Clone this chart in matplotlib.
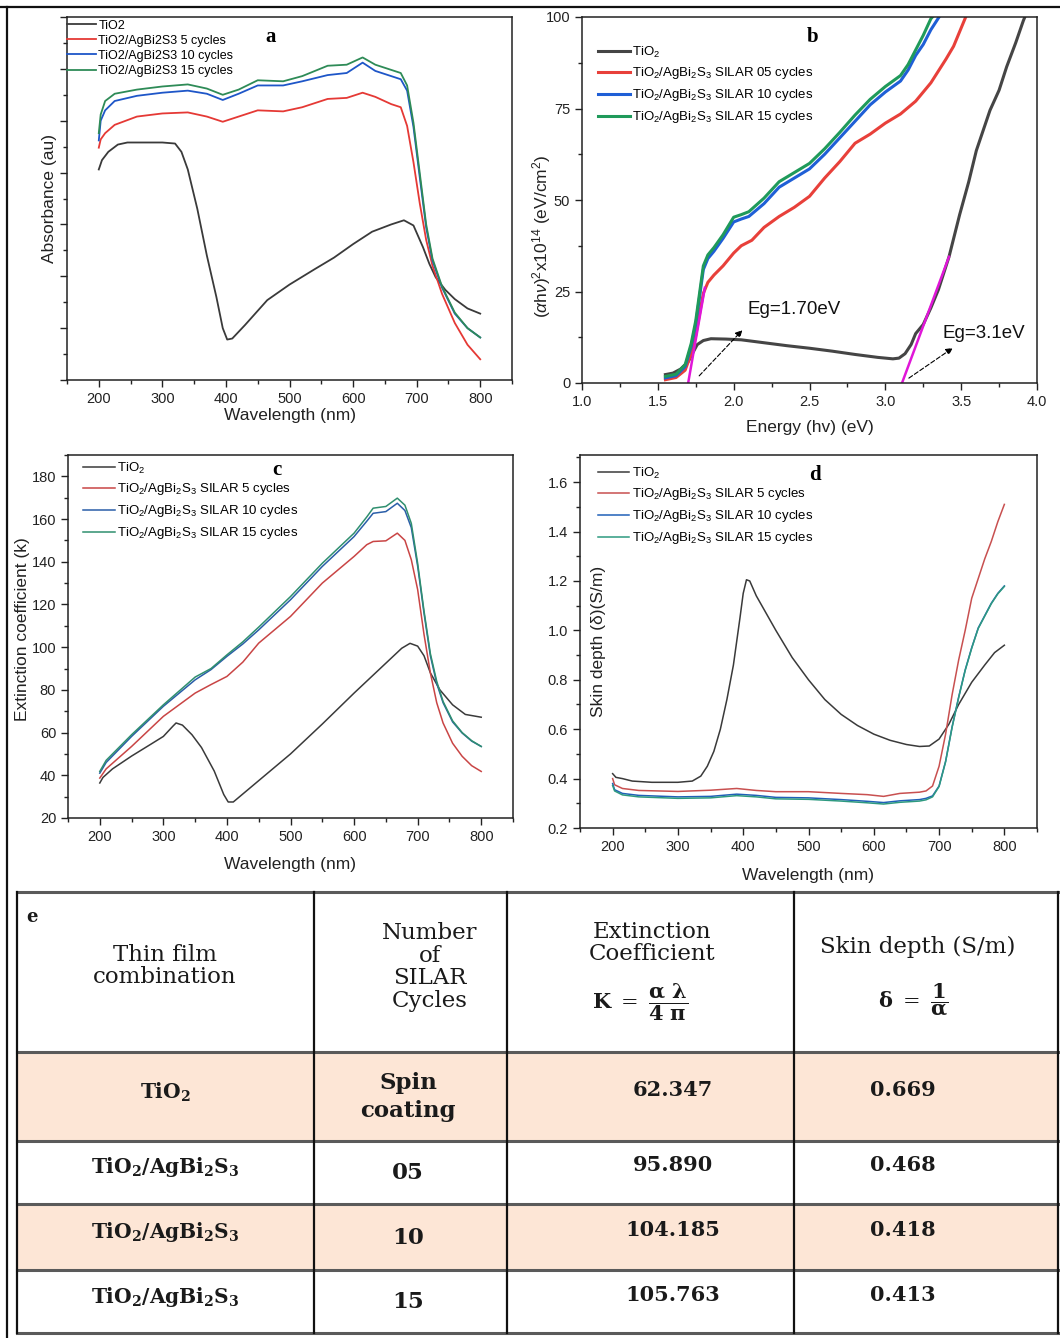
import numpy as np
import matplotlib
matplotlib.use('Agg')
import matplotlib.pyplot as plt
from matplotlib.ticker import MultipleLocator, NullFormatter

plt.rcParams['font.family'] = ['Liberation Sans', 'DejaVu Sans']
plt.rcParams['mathtext.fontset'] = 'custom'
plt.rcParams['mathtext.rm'] = 'Liberation Sans'
plt.rcParams['mathtext.it'] = 'Liberation Sans:italic'
plt.rcParams['mathtext.bf'] = 'Liberation Sans:bold'

# ---------------- panel a : absorbance ----------------
a_tio2_x = [200, 205, 215, 230, 245, 280, 300, 320, 330, 340, 355, 370, 385, 395, 402, 410, 430, 465,
            500, 540, 570, 600, 630, 660, 680, 695, 710, 720, 730, 745, 760, 780, 800]
a_tio2_y = [2.03, 2.12, 2.20, 2.27, 2.29, 2.29, 2.29, 2.28, 2.20, 2.03, 1.65, 1.20, 0.80, 0.50, 0.39, 0.40,
            0.53, 0.77, 0.92, 1.07, 1.18, 1.31, 1.43, 1.50, 1.54, 1.49, 1.28, 1.12, 0.99, 0.87, 0.78, 0.69, 0.64]
a_x = [200, 203, 210, 225, 260, 300, 340, 370, 395, 420, 450, 490, 520, 560, 590, 615, 635, 660,
       675, 685, 695, 705, 715, 725, 740, 760, 780, 800]
a_5_y = [2.24, 2.32, 2.38, 2.46, 2.54, 2.57, 2.58, 2.54, 2.49, 2.54, 2.60, 2.59, 2.63, 2.71, 2.72, 2.77,
         2.73, 2.66, 2.63, 2.45, 2.10, 1.70, 1.35, 1.10, 0.83, 0.55, 0.34, 0.20]
a_10_y = [2.31, 2.50, 2.60, 2.69, 2.74, 2.77, 2.79, 2.76, 2.70, 2.76, 2.84, 2.84, 2.88, 2.94, 2.96, 3.06,
          2.98, 2.93, 2.90, 2.79, 2.44, 1.95, 1.47, 1.15, 0.89, 0.64, 0.50, 0.41]
a_15_y = [2.38, 2.56, 2.69, 2.76, 2.80, 2.83, 2.85, 2.81, 2.75, 2.80, 2.89, 2.88, 2.93, 3.03, 3.04, 3.11,
          3.04, 2.99, 2.96, 2.84, 2.48, 1.99, 1.50, 1.17, 0.90, 0.65, 0.50, 0.41]

# ---------------- panel b : Tauc plot ----------------
b_tio2_x = [1.55, 1.60, 1.65, 1.70, 1.73, 1.76, 1.80, 1.85, 1.95, 2.05, 2.20, 2.35, 2.50, 2.65, 2.80,
            2.95, 3.05, 3.09, 3.13, 3.17, 3.20, 3.25, 3.30, 3.35, 3.42, 3.49, 3.55, 3.60, 3.69, 3.75,
            3.80, 3.86, 3.91, 3.93]
b_tio2_y = [2.3, 2.7, 3.8, 5.8, 8.2, 10.5, 11.6, 12.1, 12.0, 11.8, 11.0, 10.2, 9.5, 8.7, 7.8,
            7.0, 6.6, 6.8, 8.0, 10.5, 13.5, 16.0, 20.5, 25.5, 34.5, 46.0, 55.0, 63.5, 74.5, 80.0,
            86.4, 93.0, 99.0, 101.0]
b_5_x = [1.55, 1.62, 1.68, 1.72, 1.75, 1.78, 1.80, 1.83, 1.87, 1.93, 2.00, 2.05, 2.12, 2.20, 2.30, 2.40,
         2.50, 2.60, 2.70, 2.80, 2.90, 3.00, 3.10, 3.20, 3.30, 3.40, 3.45, 3.49, 3.54]
b_5_y = [0.9, 1.5, 3.5, 8.0, 13.0, 20.0, 24.5, 27.5, 29.5, 32.0, 35.5, 37.5, 39.0, 42.5, 45.5, 48.0,
         51.0, 56.0, 60.5, 65.5, 68.0, 71.0, 73.5, 77.0, 82.0, 88.5, 92.0, 96.0, 101.0]
b_x = [1.55, 1.62, 1.68, 1.72, 1.75, 1.78, 1.80, 1.83, 1.87, 1.93, 2.00, 2.05, 2.10, 2.20, 2.30, 2.40,
       2.50, 2.60, 2.70, 2.80, 2.90, 3.00, 3.10, 3.15, 3.20, 3.25, 3.30, 3.37]
b_10_y = [1.4, 2.0, 4.5, 10.0, 16.0, 25.0, 31.0, 34.0, 36.0, 39.5, 44.0, 44.8, 45.5, 49.0, 53.5, 56.0,
          58.5, 62.5, 67.0, 71.5, 76.0, 79.5, 82.5, 85.5, 89.5, 92.5, 96.5, 101.0]
b_15_y = [1.8, 2.4, 5.0, 10.8, 17.0, 26.0, 32.0, 35.0, 37.0, 40.5, 45.3, 46.0, 46.8, 50.5, 55.0, 57.5,
          60.0, 64.0, 68.5, 73.2, 77.5, 81.0, 84.0, 87.0, 91.0, 95.0, 99.5, 103.0]
# linear fits used for the band gaps
fit1_x = [1.70, 1.81]
fit1_y = [0.0, 26.0]
fit2_x = [3.11, 3.42]
fit2_y = [0.0, 34.5]

# ---------------- panel c : extinction coefficient ----------------
c_tio2_x = [200, 205, 220, 250, 280, 300, 315, 320, 330, 345, 360, 380, 395, 402, 410, 430, 460, 500,
            550, 600, 650, 675, 688, 700, 710, 720, 735, 755, 775, 800]
c_tio2_y = [36.4, 39.0, 43.0, 49.0, 54.5, 58.2, 63.0, 64.5, 63.5, 59.0, 53.0, 42.0, 31.0, 27.5, 27.5,
            32.5, 40.0, 50.0, 64.0, 78.5, 92.5, 99.5, 101.8, 100.5, 96.0, 88.0, 80.0, 73.0, 68.5, 67.2]
c_x = [200, 210, 250, 300, 350, 375, 400, 425, 450, 500, 550, 600, 620, 630, 650, 668, 680, 690, 700,
       710, 720, 730, 740, 755, 770, 785, 800]
c_5_y = [38.7, 43.0, 53.5, 67.6, 78.5, 82.5, 86.3, 93.0, 101.9, 114.4, 130.0, 142.5, 148.0, 149.5, 149.8,
         153.4, 150.0, 141.0, 127.0, 106.0, 88.0, 74.0, 64.5, 55.0, 48.9, 44.5, 41.8]
c_10_y = [41.0, 46.0, 58.2, 72.3, 84.7, 89.5, 95.7, 101.5, 108.1, 122.2, 137.8, 151.8, 159.0, 162.7, 163.5,
          167.4, 164.0, 156.0, 138.0, 116.0, 96.0, 83.0, 74.0, 65.0, 59.8, 56.0, 53.5]
c_15_y = [41.8, 47.0, 59.0, 73.0, 86.0, 90.0, 96.4, 102.5, 109.4, 123.7, 139.3, 153.4, 161.0, 165.1, 165.9,
          169.8, 166.5, 158.0, 139.3, 117.0, 97.0, 84.0, 74.6, 65.5, 60.0, 56.2, 53.5]

# ---------------- panel d : skin depth ----------------
d_tio2_x = [200, 205, 215, 230, 260, 300, 322, 335, 345, 355, 365, 375, 385, 395, 400, 405, 410, 420,
            435, 450, 475, 500, 525, 550, 575, 600, 625, 650, 670, 685, 700, 715, 730, 750, 770, 785, 800]
d_tio2_y = [0.42, 0.405, 0.40, 0.39, 0.385, 0.385, 0.39, 0.41, 0.45, 0.51, 0.60, 0.72, 0.86, 1.05, 1.15,
            1.205, 1.20, 1.14, 1.07, 1.00, 0.89, 0.80, 0.72, 0.66, 0.615, 0.58, 0.555, 0.538, 0.53, 0.532,
            0.56, 0.62, 0.70, 0.79, 0.86, 0.91, 0.94]
d_x = [200, 203, 215, 240, 300, 350, 390, 420, 450, 500, 550, 590, 615, 640, 670, 680, 690, 700, 710,
       720, 730, 740, 750, 760, 770, 780, 790, 800]
d_5_y = [0.40, 0.375, 0.36, 0.352, 0.348, 0.353, 0.36, 0.352, 0.347, 0.347, 0.34, 0.335, 0.328, 0.34,
         0.345, 0.35, 0.37, 0.45, 0.58, 0.74, 0.88, 1.00, 1.13, 1.21, 1.29, 1.36, 1.44, 1.51]
d_10_y = [0.38, 0.355, 0.34, 0.332, 0.326, 0.328, 0.337, 0.332, 0.324, 0.322, 0.315, 0.308, 0.303, 0.31,
          0.315, 0.32, 0.33, 0.37, 0.47, 0.61, 0.73, 0.84, 0.93, 1.01, 1.06, 1.11, 1.15, 1.18]
d_15_y = [0.372, 0.35, 0.334, 0.326, 0.32, 0.322, 0.331, 0.326, 0.318, 0.316, 0.309, 0.302, 0.297, 0.304,
          0.309, 0.314, 0.326, 0.368, 0.468, 0.608, 0.728, 0.838, 0.928, 1.008, 1.058, 1.108, 1.148, 1.178]

# ---------------- table e ----------------
films = [r'$\mathbf{TiO_2}$', r'$\mathbf{TiO_2/AgBi_2S_3}$', r'$\mathbf{TiO_2/AgBi_2S_3}$',
         r'$\mathbf{TiO_2/AgBi_2S_3}$']
cycles = ['Spin\ncoating', '05', '10', '15']
ext_coef = ['62.347', '95.890', '104.185', '105.763']
skin_depth = ['0.669', '0.468', '0.418', '0.413']

W, H = 1060, 1338
fig = plt.figure(figsize=(W / 100, H / 100), dpi=100)


def box(l, t, r, b):
    return [l / W, 1 - b / H, (r - l) / W, (b - t) / H]


def style(ax, xlim, ylim, xmaj, xmin, ymaj, ymin):
    ax.set_xlim(*xlim)
    ax.set_ylim(*ylim)
    ax.xaxis.set_major_locator(MultipleLocator(xmaj))
    ax.xaxis.set_minor_locator(MultipleLocator(xmin))
    ax.yaxis.set_major_locator(MultipleLocator(ymaj))
    ax.yaxis.set_minor_locator(MultipleLocator(ymin))
    ax.tick_params(which='both', direction='out', top=False, right=False, labelsize=10.5,
                   colors='#222222', width=1.0)
    ax.tick_params(which='major', length=5)
    ax.tick_params(which='minor', length=3)
    for s in ax.spines.values():
        s.set_linewidth(1.1)
        s.set_color('#222222')


lab_font = dict(fontsize=12.5, color='#222222')
letter_font = dict(fontsize=15, fontweight='bold', family='Liberation Serif', ha='center', va='center')

# ---- a ----
ax = fig.add_axes(box(67, 17, 512, 380))
ax.plot(a_tio2_x, a_tio2_y, color='#3a3a3a', lw=1.3, label='TiO2')
ax.plot(a_x, a_5_y, color='#e53935', lw=1.3, label='TiO2/AgBi2S3 5 cycles')
ax.plot(a_x, a_10_y, color='#1e56c8', lw=1.3, label='TiO2/AgBi2S3 10 cycles')
ax.plot(a_x, a_15_y, color='#2e8b57', lw=1.3, label='TiO2/AgBi2S3 15 cycles')
style(ax, (150, 850), (0, 3.5), 100, 50, 0.5, 0.25)
ax.yaxis.set_major_formatter(NullFormatter())
ax.set_xlabel('Wavelength (nm)', **lab_font)
ax.set_ylabel('Absorbance (au)', **lab_font)
ax.xaxis.set_label_coords(0.5, -0.077)
ax.yaxis.set_label_coords(-0.022, 0.5)
ax.legend(loc='upper left', bbox_to_anchor=(0.0, 0.993), frameon=False, fontsize=9,
          handlelength=2.3, handletextpad=0.2, labelspacing=0.25, borderpad=0, borderaxespad=0)
ax.text(470, 3.31, 'a', **letter_font)

# ---- b ----
ax = fig.add_axes(box(582, 17, 1037, 383))
ax.plot(b_tio2_x, b_tio2_y, color='#454545', lw=2.2, label='TiO$_2$')
ax.plot(b_5_x, b_5_y, color='#e8403a', lw=2.2, label='TiO$_2$/AgBi$_2$S$_3$ SILAR 05 cycles')
ax.plot(b_x, b_10_y, color='#1f5fd6', lw=2.2, label='TiO$_2$/AgBi$_2$S$_3$ SILAR 10 cycles')
ax.plot(b_x, b_15_y, color='#1f9a5a', lw=2.2, label='TiO$_2$/AgBi$_2$S$_3$ SILAR 15 cycles')
ax.plot(fit1_x, fit1_y, color='#e016d8', lw=1.8)
ax.plot(fit2_x, fit2_y, color='#e016d8', lw=1.8)
style(ax, (1.0, 4.0), (0, 100), 0.5, 0.25, 25, 12.5)
ax.set_xlabel('Energy (hv) (eV)', **lab_font)
ax.set_ylabel(r'($\alpha$h$\nu$)$^2$x10$^{14}$ (eV/cm$^2$)', **lab_font)
ax.xaxis.set_label_coords(0.5, -0.101)
ax.yaxis.set_label_coords(-0.064, 0.40)
ax.legend(loc='upper left', bbox_to_anchor=(0.035, 0.925), frameon=False, fontsize=9.5,
          handlelength=2.4, handletextpad=0.2, labelspacing=0.45, borderpad=0, borderaxespad=0)
ax.annotate('', xy=(2.07, 15.0), xytext=(1.76, 1.4),
            arrowprops=dict(arrowstyle='-|>', color='black', lw=0.8, ls=(0, (4, 2)),
                            mutation_scale=10))
ax.annotate('', xy=(3.46, 10.0), xytext=(3.14, 0.9),
            arrowprops=dict(arrowstyle='-|>', color='black', lw=0.8, ls=(0, (4, 2)),
                            mutation_scale=10))
ax.text(2.09, 20.0, 'Eg=1.70eV', fontsize=13.5, va='center', ha='left', color='#111111')
ax.text(3.38, 13.6, 'Eg=3.1eV', fontsize=13.5, va='center', ha='left', color='#111111')
ax.text(2.52, 94.5, 'b', **letter_font)

# ---- c ----
ax = fig.add_axes(box(68, 455, 513, 818))
ax.plot(c_tio2_x, c_tio2_y, color='#3a3a3a', lw=1.1, label='TiO$_2$')
ax.plot(c_x, c_5_y, color='#c94545', lw=1.1, label='TiO$_2$/AgBi$_2$S$_3$ SILAR 5 cycles')
ax.plot(c_x, c_10_y, color='#2a5ea8', lw=1.1, label='TiO$_2$/AgBi$_2$S$_3$ SILAR 10 cycles')
ax.plot(c_x, c_15_y, color='#2f8f6f', lw=1.1, label='TiO$_2$/AgBi$_2$S$_3$ SILAR 15 cycles')
style(ax, (150, 850), (20, 190), 100, 50, 20, 10)
ax.set_xlabel('Wavelength (nm)', **lab_font)
ax.set_ylabel('Extinction coefficient (k)', **lab_font)
ax.xaxis.set_label_coords(0.5, -0.107)
ax.yaxis.set_label_coords(-0.085, 0.52)
ax.legend(loc='upper left', bbox_to_anchor=(0.034, 0.985), frameon=False, fontsize=9.5,
          handlelength=2.4, handletextpad=0.2, labelspacing=0.45, borderpad=0, borderaxespad=0)
ax.text(478, 183, 'c', **letter_font)

# ---- d ----
ax = fig.add_axes(box(580, 455, 1037, 828))
ax.plot(d_tio2_x, d_tio2_y, color='#3a3a3a', lw=1.1, label='TiO$_2$')
ax.plot(d_x, d_5_y, color='#c85050', lw=1.1, label='TiO$_2$/AgBi$_2$S$_3$ SILAR 5 cycles')
ax.plot(d_x, d_10_y, color='#2060b8', lw=1.1, label='TiO$_2$/AgBi$_2$S$_3$ SILAR 10 cycles')
ax.plot(d_x, d_15_y, color='#2e9a80', lw=1.1, label='TiO$_2$/AgBi$_2$S$_3$ SILAR 15 cycles')
style(ax, (150, 850), (0.2, 1.71), 100, 50, 0.2, 0.1)
ax.set_xlabel('Wavelength (nm)', **lab_font)
ax.set_ylabel('Skin depth (δ)(S/m)', **lab_font)
ax.xaxis.set_label_coords(0.5, -0.107)
ax.yaxis.set_label_coords(0.057, 0.5)
ax.legend(loc='upper left', bbox_to_anchor=(0.039, 0.972), frameon=False, fontsize=9.5,
          handlelength=2.4, handletextpad=0.2, labelspacing=0.45, borderpad=0, borderaxespad=0)
ax.text(510, 1.63, 'd', **letter_font)

# ---- table e + frame, drawn in pixel coordinates ----
tb = fig.add_axes([0, 0, 1, 1], zorder=-1)
tb.set_xlim(0, W)
tb.set_ylim(H, 0)
tb.axis('off')

# outer frame of the figure
tb.plot([0, W], [7, 7], color='#111111', lw=1.6)
tb.plot([7, 7], [7, H], color='#111111', lw=1.6)

col_edges = [17, 314, 507, 794, 1058]
row_edges = [892, 1052, 1141, 1204, 1270, 1333]
shade = '#fde6d6'
for i in [0, 2]:
    tb.fill_between([col_edges[0], col_edges[-1]], row_edges[i + 1], row_edges[i + 2],
                    color=shade, lw=0)
for y in row_edges:
    tb.plot([col_edges[0], col_edges[-1]], [y, y], color='#5a5a5a', lw=2.2)
for x in col_edges:
    tb.plot([x, x], [row_edges[0], row_edges[-1]], color='#111111', lw=1.6)

serif = dict(family='DejaVu Serif', color='#1a1a1a', ha='center', va='center')
tb.text(32, 917, 'e', fontsize=13, fontweight='bold', **serif)
tb.text(165, 966, 'Thin film\ncombination', fontsize=16.5, linespacing=1.05, **serif)
tb.text(430, 967, 'Number\nof\nSILAR\nCycles', fontsize=16.5, linespacing=1.05, **serif)
tb.text(652, 943, 'Extinction\nCoefficient', fontsize=16.5, linespacing=1.05, **serif)
tb.text(640, 1002, r'$\mathbf{K}\ =\ \dfrac{\mathbf{\alpha\ \lambda}}{\mathbf{4\ \pi}}$', fontsize=15,
        math_fontfamily='dejavuserif', **serif)
tb.text(918, 947, 'Skin depth (S/m)', fontsize=16.5, **serif)
tb.text(913, 1000, r'$\mathbf{\delta}\ =\ \dfrac{\mathbf{1}}{\mathbf{\alpha}}$', fontsize=15,
        math_fontfamily='dejavuserif', **serif)

row_y = [1092, 1167, 1232, 1297]
cyc_y = [1097, 1173, 1238, 1302]
for i in range(4):
    tb.text(165, row_y[i], films[i], fontsize=14.5, math_fontfamily='dejavuserif', **serif)
    tb.text(408, cyc_y[i], cycles[i], fontsize=16.5, fontweight='bold', linespacing=1.4, **serif)
    tb.text(673, row_y[i] - 2, ext_coef[i], fontsize=15, fontweight='bold', **serif)
    tb.text(903, row_y[i] - 2, skin_depth[i], fontsize=15, fontweight='bold', **serif)

fig.savefig('out.png', dpi=100)
